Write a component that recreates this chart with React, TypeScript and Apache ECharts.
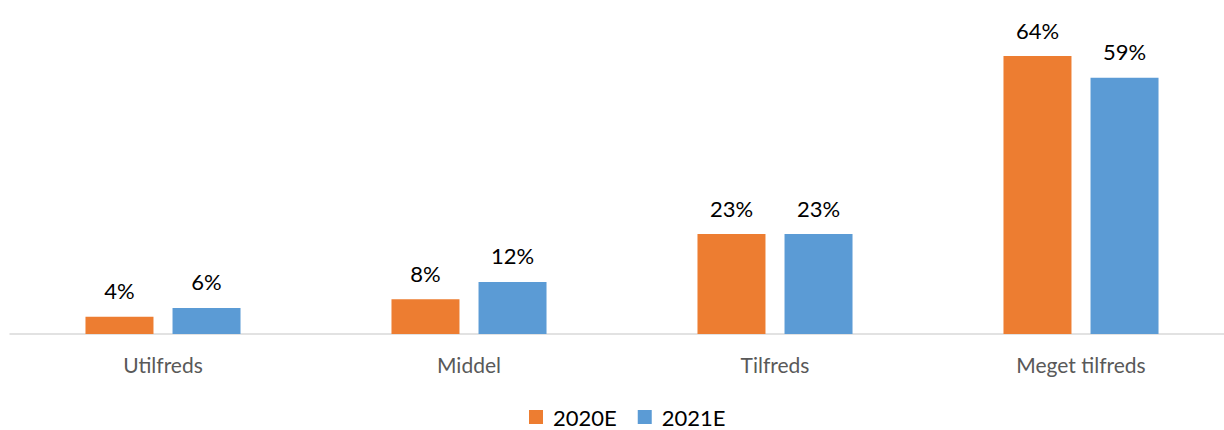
import React, { useEffect, useRef } from "react";
import * as echarts from "echarts";

const categories = ["Utilfreds", "Middel", "Tilfreds", "Meget tilfreds"];
const series2020 = [4, 8, 23, 64];
const series2021 = [6, 12, 23, 59];
const seriesNames = ["2020E", "2021E"];

export default function App() {
  const ref = useRef<HTMLDivElement>(null);
  useEffect(() => {
    if (!ref.current) return;
    const chart = echarts.init(ref.current, undefined, { renderer: "svg" });
    const font = "Lato, 'Open Sans', sans-serif";
    const label = {
      show: true,
      position: "top",
      distance: 15,
      formatter: "{c}%",
      color: "#000",
      fontSize: 22,
      fontFamily: font,
    };
    chart.setOption({
      animation: false,
      grid: { left: 10, top: 30, width: 1224, height: 304, containLabel: false },
      legend: {
        data: seriesNames,
        top: 406,
        left: 529,
        padding: 0,
        itemWidth: 14,
        itemHeight: 14,
        itemGap: 21,
        icon: "rect",
        textStyle: { fontSize: 22, color: "#000", fontFamily: font, padding: [0, 0, 0, 5] },
      },
      xAxis: {
        type: "category",
        data: categories,
        axisLine: { lineStyle: { color: "#d9d9d9", width: 1.5 } },
        axisTick: { show: false },
        axisLabel: { fontSize: 21, color: "#595959", fontFamily: font, margin: 20 },
      },
      yAxis: {
        type: "value",
        min: 0,
        max: 70,
        show: false,
        splitLine: { show: false },
      },
      series: [
        {
          name: seriesNames[0],
          type: "bar",
          data: series2020,
          barWidth: 68,
          barGap: "28%",
          itemStyle: { color: "#ED7D31" },
          label,
        },
        {
          name: seriesNames[1],
          type: "bar",
          data: series2021,
          barWidth: 68,
          barGap: "28%",
          itemStyle: { color: "#5B9BD5" },
          label,
        },
      ],
    });
    return () => chart.dispose();
  }, []);
  return (
    <div style={{ position: "absolute", left: 0, top: 0, width: 1224, height: 430, overflow: "hidden", background: "#fff" }}>
      <div ref={ref} style={{ position: "absolute", left: 0, top: 0, width: 1244, height: 430 }} />
    </div>
  );
}
